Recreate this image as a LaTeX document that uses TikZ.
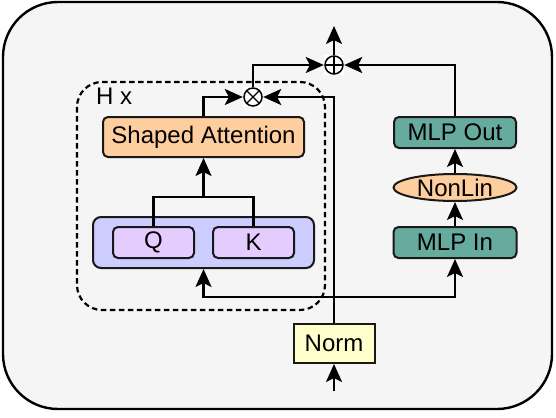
\documentclass[tikz,border=0pt]{standalone}
\usepackage{fontspec}
\setmainfont{Liberation Sans}
\usetikzlibrary{arrows.meta,shapes.geometric}
\definecolor{bgc}{HTML}{F5F5F5}
\definecolor{peach}{HTML}{FFCE9F}
\definecolor{lav}{HTML}{CCCCFF}
\definecolor{qkc}{HTML}{E5CCFF}
\definecolor{teal}{HTML}{67AB9F}
\definecolor{normc}{HTML}{FFFFCC}
\tikzset{
  lbl/.style={font=\fontsize{24}{28}\selectfont},
  box/.style={lbl, draw=black!90, line width=2pt, rounded corners=5pt, inner sep=0pt},
  conn/.style={line width=2.2pt},
  arr/.style={conn, -{Stealth[length=18pt,width=16pt,inset=4pt]}},
  opnode/.style={rectangle, fill=white, minimum size=20pt, inner sep=0pt},
  otimesnode/.style={opnode, path picture={
      \draw[line width=1.5pt] (path picture bounding box.center) circle (9pt);
      \draw[line width=1.3pt] ([shift={(-6.4pt,-6.4pt)}]path picture bounding box.center) -- ([shift={(6.4pt,6.4pt)}]path picture bounding box.center);
      \draw[line width=1.3pt] ([shift={(-6.4pt,6.4pt)}]path picture bounding box.center) -- ([shift={(6.4pt,-6.4pt)}]path picture bounding box.center);}},
  oplusnode/.style={opnode, path picture={
      \draw[line width=1.5pt] (path picture bounding box.center) circle (9pt);
      \draw[line width=1.3pt] ([shift={(-9pt,0pt)}]path picture bounding box.center) -- ([shift={(9pt,0pt)}]path picture bounding box.center);
      \draw[line width=1.3pt] ([shift={(0pt,-9pt)}]path picture bounding box.center) -- ([shift={(0pt,9pt)}]path picture bounding box.center);}}
}
\begin{document}
\begin{tikzpicture}[x=1pt,y=-1pt]
\useasboundingbox (0,0) rectangle (556,417);
% outer frame
\draw[line width=2.4pt, fill=bgc, rounded corners=55pt] (3,2) rectangle (552,409);
% dashed repeat box
\draw[line width=2.2pt, dash pattern=on 5.5pt off 3.5pt, rounded corners=25pt] (77,82) rectangle (325,310);
\node[lbl, anchor=west, inner sep=0pt] (hx) at (96,96) {H x};
% nodes
\node[box, fill=peach, minimum width=201pt, minimum height=40pt] (sa) at (203.5,137) {Shaped Attention};
\node[box, fill=lav, rounded corners=8pt, minimum width=221pt, minimum height=51pt] (qk) at (203.5,242.5) {};
\node[box, fill=qkc, minimum width=81pt, minimum height=31pt] (q) at (153.5,242.5) {Q};
\node[box, fill=qkc, minimum width=81pt, minimum height=31pt] (k) at (253.5,242.5) {K};
\node[box, fill=normc, rounded corners=0pt, minimum width=81pt, minimum height=39pt] (norm) at (334,343.5) {Norm};
\node[box, fill=teal, minimum width=122pt, minimum height=31pt] (mlpout) at (455,132.5) {MLP Out};
\node[box, fill=peach, ellipse, rounded corners=0pt, minimum width=123pt, minimum height=27pt] (nonlin) at (455,187.5) {NonLin};
\node[box, fill=teal, minimum width=123pt, minimum height=31pt] (mlpin) at (455,242.5) {MLP In};
\node[otimesnode] (ot) at (253,97) {};
\node[oplusnode] (op) at (334,65) {};
% coordinates
\coordinate (inp) at (334,391);
\coordinate (outp) at (334,26);
\coordinate (split) at (334,297);
\coordinate (qkj) at (203.5,197);
% connectors
\draw[arr] (inp) -- (norm.south);
\draw[arr] (norm.north) |- (ot.east);
\draw[arr] (split) -| (qk.south);
\draw[arr] (split) -| (mlpin.south);
\draw[conn] (q.north) |- (qkj) -| (k.north);
\draw[arr] (qkj) -- (sa.south);
\draw[arr] (sa.north) |- (ot.west);
\draw[arr] (ot.north) |- (op.west);
\draw[arr] (mlpin.north) -- (nonlin.south);
\draw[arr] (nonlin.north) -- (mlpout.south);
\draw[arr] (mlpout.north) |- (op.east);
\draw[arr] (op.north) -- (outp);
\end{tikzpicture}
\end{document}
